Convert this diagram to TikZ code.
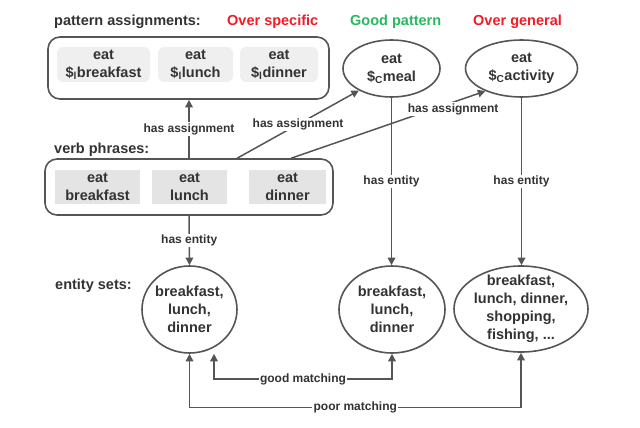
\documentclass[tikz,border=0pt]{standalone}
\usepackage{fontspec}
\setmainfont{Liberation Sans}
\usetikzlibrary{shapes.geometric,arrows.meta,calc}
\definecolor{txt}{HTML}{333333}
\definecolor{ln}{HTML}{555555}
\definecolor{redc}{RGB}{240,28,38}
\definecolor{greenc}{RGB}{40,185,95}
\definecolor{pbox}{HTML}{EFEFEF}
\definecolor{vbox}{HTML}{E4E4E4}
\begin{document}
\begin{tikzpicture}[x=1pt,y=-1pt,
  base/.style={font=\fontsize{14.5}{18}\selectfont\bfseries, text=txt, align=center, inner sep=0pt},
  hdr/.style={base, anchor=base west},
  group/.style={draw=ln, line width=1.6pt, rounded corners=12pt, inner sep=0pt},
  pcell/.style={base, fill=pbox, rounded corners=6pt},
  vcell/.style={base, fill=vbox},
  ell/.style={base, ellipse, draw=ln, line width=1.6pt, inner xsep=-14pt, inner ysep=-14pt},
  lbl/.style={font=\fontsize{12}{14}\selectfont\bfseries, text=txt, fill=white, inner sep=1.2pt},
  arr/.style={draw=ln, line width=1.5pt, -{Triangle[length=7.5pt,width=7.5pt]}},
  darr/.style={draw=ln, line width=1.5pt, {Triangle[length=7.5pt,width=7.5pt]}-{Triangle[length=7.5pt,width=7.5pt]}},
]
\useasboundingbox (0,0) rectangle (640,428);

% headers
\node[hdr] (hpa) at (54,26) {pattern assignments:};
\node[hdr, text=redc] (hos) at (227,26) {Over specific};
\node[hdr, text=greenc] (hgp) at (350,26) {Good pattern};
\node[hdr, text=redc] (hog) at (473,26) {Over general};
\node[hdr] (hvp) at (54,153) {verb phrases:};
\node[hdr] (hes) at (55,289) {entity sets:};

% pattern assignments group
\node[group, minimum width=281pt, minimum height=62pt] (pat) at (188.5,68) {};
\node[pcell, minimum width=93pt, minimum height=35pt] (p1) at (103.5,64.5) {eat\\\$\textsubscript{l}breakfast};
\node[pcell, minimum width=75pt, minimum height=35pt] (p2) at (195.5,64.5) {eat\\\$\textsubscript{l}lunch};
\node[pcell, minimum width=78pt, minimum height=35pt] (p3) at (279,64.5) {eat\\\$\textsubscript{l}dinner};

% pattern ellipses
\node[ell, minimum width=97pt, minimum height=57pt] (meal) at (391.5,68.5) {eat\\\$\textsubscript{C}meal};
\node[ell, minimum width=112pt, minimum height=57pt] (activity) at (521.5,68.5) {eat\\\$\textsubscript{C}activity};

% verb phrases group
\node[group, minimum width=288pt, minimum height=56pt] (verb) at (189,187) {};
\node[vcell, minimum width=85pt, minimum height=34pt] (vb1) at (97.5,187) {eat\\breakfast};
\node[vcell, minimum width=75pt, minimum height=34pt] (vb2) at (189.5,187) {eat\\lunch};
\node[vcell, minimum width=77pt, minimum height=34pt] (vb3) at (287.5,187) {eat\\dinner};

% entity sets
\node[ell, minimum width=95pt, minimum height=87pt] (e1) at (189.5,309.5) {breakfast,\\lunch,\\dinner};
\node[ell, minimum width=106pt, minimum height=87pt] (e2) at (392,309.5) {breakfast,\\lunch,\\dinner};
\node[ell, minimum width=134pt, minimum height=86pt] (e3) at (521,309) {breakfast,\\lunch, dinner,\\shopping,\\fishing, ...};

% has assignment
\coordinate (v2) at ([xshift=193pt]verb.north west);
\coordinate (v3) at ([xshift=247pt]verb.north west);
\draw[arr] (verb.north) -- node[lbl]{has assignment} (verb.north |- pat.south);
\draw[arr] (v2) -- node[lbl]{has assignment} (meal.214);
\draw[arr] (v3) -- node[lbl, pos=0.834, yshift=-7pt]{has assignment} (activity.212);

% has entity
\draw[arr] (verb.south) -- node[lbl]{has entity} (e1.north);
\draw[arr] (meal.south) -- node[lbl]{has entity} (meal.south |- e2.north);
\draw[arr] (activity.south) -- node[lbl]{has entity} (activity.south |- e3.north);

% matching
\coordinate (gy) at (0,379);
\coordinate (py) at (0,407.5);
\coordinate (g1) at ([xshift=24.5pt]e1.south);
\draw[darr] (g1) -- (g1 |- gy) -- node[lbl]{good matching} (e2.south |- gy) -- (e2.south);
\draw[darr] (e1.south) -- (e1.south |- py) -- node[lbl]{poor matching} (e3.south |- py) -- (e3.south);
\end{tikzpicture}
\end{document}
